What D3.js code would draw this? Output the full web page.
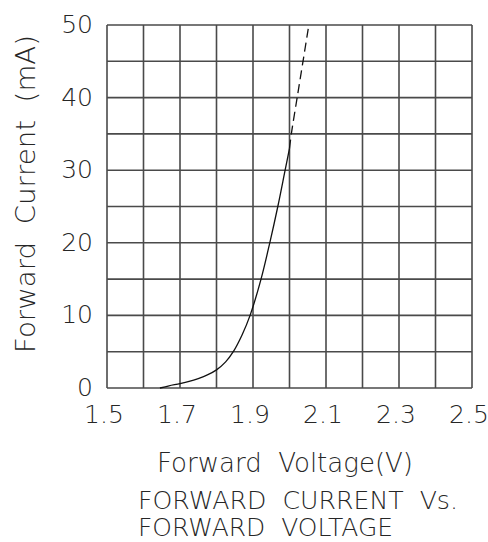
<!DOCTYPE html>
<html>
<head>
<meta charset="utf-8">
<script src="https://cdn.jsdelivr.net/npm/d3@7"></script>
<style>
  body { margin: 0; background: #fff; }
  text { font-family: "DejaVu Sans", sans-serif; font-weight: 200; fill: #262626; white-space: pre; }
</style>
</head>
<body>
<div id="chart"></div>
<script>
// Data
var voltSolid = [1.645, 1.67, 1.70, 1.725, 1.75, 1.775, 1.80, 1.825, 1.846, 1.87, 1.892, 1.922, 1.946, 1.968, 1.988, 2.0];
var currSolid = [0, 0.3, 0.6, 0.9, 1.3, 1.8, 2.5, 3.6, 5, 7.3, 10, 15, 20, 25, 30, 33];
var voltDash = [2.0, 2.005, 2.021, 2.037, 2.053];
var currDash = [33, 35, 40, 45, 50];

var xGrid = [1.5, 1.6, 1.7, 1.8, 1.9, 2.0, 2.1, 2.2, 2.3, 2.4, 2.5];
var yGrid = [0, 5, 10, 15, 20, 25, 30, 35, 40, 45, 50];
var xLabels = ["1.5", "1.7", "1.9", "2.1", "2.3", "2.5"];
var yLabels = ["0", "10", "20", "30", "40", "50"];

var width = 488, height = 542;
var margin = {top: 25, right: 16, bottom: 154, left: 107};

var svg = d3.select('#chart')
  .append('svg')
    .attr('width', width)
    .attr('height', height);

var x = d3.scaleLinear()
  .domain([1.5, 2.5])
  .range([margin.left, width - margin.right]);

var y = d3.scaleLinear()
  .domain([0, 50])
  .range([height - margin.bottom, margin.top]);

// Grid lines
svg.append("g")
  .attr("class", "grid-x")
  .selectAll("line")
  .data(xGrid)
  .enter().append("line")
    .attr("x1", d => x(d)).attr("x2", d => x(d))
    .attr("y1", y(0)).attr("y2", y(50))
    .attr("stroke", "#4a4a4a")
    .attr("stroke-width", 1.6);

svg.append("g")
  .attr("class", "grid-y")
  .selectAll("line")
  .data(yGrid)
  .enter().append("line")
    .attr("x1", x(1.5)).attr("x2", x(2.5))
    .attr("y1", d => y(d)).attr("y2", d => y(d))
    .attr("stroke", "#4a4a4a")
    .attr("stroke-width", 1.6);

// Tick labels
svg.append("g")
  .selectAll("text")
  .data(xLabels)
  .enter().append("text")
    .attr("x", d => x(+d) - 3)
    .attr("y", 423)
    .attr("text-anchor", "middle")
    .style("font-size", "25px")
    .text(d => d);

svg.append("g")
  .selectAll("text")
  .data(yLabels)
  .enter().append("text")
    .attr("x", 93)
    .attr("y", d => y(+d) + 8)
    .attr("text-anchor", "end")
    .style("font-size", "25px")
    .text(d => d);

// Curve
var solidData = voltSolid.map((v, i) => ({v: v, c: currSolid[i]}));
var dashData = voltDash.map((v, i) => ({v: v, c: currDash[i]}));

var line = d3.line()
  .x(d => x(d.v))
  .y(d => y(d.c))
  .curve(d3.curveCatmullRom.alpha(0.5));

svg.append("path")
  .datum(solidData)
  .attr("fill", "none")
  .attr("stroke", "#111")
  .attr("stroke-width", 1.3)
  .attr("d", line);

svg.append("path")
  .datum(dashData)
  .attr("fill", "none")
  .attr("stroke", "#111")
  .attr("stroke-width", 1.3)
  .attr("stroke-dasharray", "9,5")
  .attr("d", line);

// Axis titles
svg.append("text")
  .attr("transform", "translate(35,353) rotate(-90)")
  .attr("textLength", 318)
  .attr("lengthAdjust", "spacingAndGlyphs")
  .style("font-size", "27px")
  .text("Forward  Current  (mA)");

svg.append("text")
  .attr("x", 157)
  .attr("y", 472)
  .attr("textLength", 256)
  .attr("lengthAdjust", "spacingAndGlyphs")
  .style("font-size", "27px")
  .text("Forward  Voltage(V)");

svg.append("text")
  .attr("x", 138)
  .attr("y", 509)
  .attr("textLength", 320)
  .attr("lengthAdjust", "spacingAndGlyphs")
  .style("font-size", "24px")
  .text("FORWARD  CURRENT  Vs.");

svg.append("text")
  .attr("x", 138)
  .attr("y", 536)
  .attr("textLength", 255)
  .attr("lengthAdjust", "spacingAndGlyphs")
  .style("font-size", "24px")
  .text("FORWARD  VOLTAGE");
</script>
</body>
</html>
